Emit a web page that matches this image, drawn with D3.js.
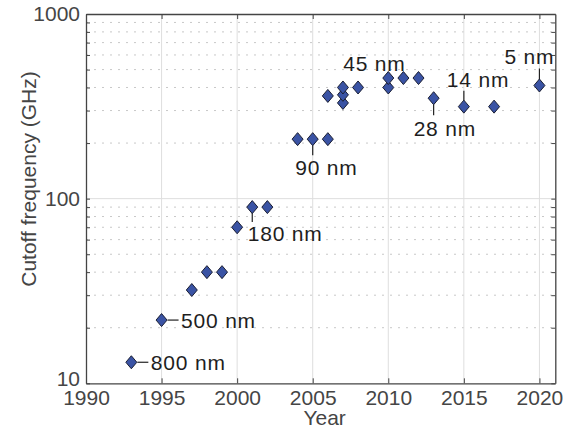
<!DOCTYPE html>
<html>
<head>
<meta charset="utf-8">
<script src="https://cdn.jsdelivr.net/npm/d3@7"></script>
<style>
  body { margin: 0; background: #fff; }
  svg { font-family: "Liberation Sans", Arial, Helvetica, sans-serif; }
  .axis path, .axis line { stroke: #444; }
  .axis text { fill: #454545; font-size: 21px; }
</style>
</head>
<body>
<svg id="chart" width="574" height="429"></svg>
<script>
// data
var years = [1993, 1995, 1997, 1998, 1999, 2000, 2001, 2002, 2004, 2005, 2006, 2006,
             2007, 2007, 2007, 2008, 2010, 2010, 2011, 2012, 2013, 2015, 2017, 2020];
var freqs = [13, 22, 32, 40, 40, 70, 90, 90, 210, 210, 210, 360,
             330, 365, 400, 400, 400, 450, 450, 450, 350, 315, 315, 410];

var nodeLabels = ["800 nm", "500 nm", "180 nm", "90 nm", "45 nm", "28 nm", "14 nm", "5 nm"];
var nodeYears  = [1993, 1995, 2001, 2005, 2010, 2013, 2015, 2020];
var nodeFreqs  = [13, 22, 90, 210, 450, 350, 315, 410];

var xTicks = [1990, 1995, 2000, 2005, 2010, 2015, 2020];
var yTicks = [10, 100, 1000];
var yMinor = [20, 30, 40, 50, 60, 70, 80, 90, 200, 300, 400, 500, 600, 700, 800, 900];

var svg = d3.select("#chart");
var plotL = 86, plotR = 555.3, plotT = 14, plotB = 383.3;

var x = d3.scaleLinear().domain([1990, 2021.05]).range([plotL, plotR]);
var y = d3.scaleLog().domain([10, 1000]).range([plotB, plotT]);

// grid
var grid = svg.append("g");
grid.selectAll("line.minor").data(yMinor).enter().append("line")
    .attr("x1", plotL).attr("x2", plotR)
    .attr("y1", function(d) { return y(d); })
    .attr("y2", function(d) { return y(d); })
    .attr("stroke", "#c8c8c8")
    .attr("stroke-dasharray", "2,6");
grid.selectAll("line.vmajor").data(xTicks.slice(1)).enter().append("line")
    .attr("x1", function(d) { return x(d); })
    .attr("x2", function(d) { return x(d); })
    .attr("y1", plotT).attr("y2", plotB)
    .attr("stroke", "#dedede");
grid.append("line")
    .attr("x1", plotL).attr("x2", plotR)
    .attr("y1", y(100)).attr("y2", y(100))
    .attr("stroke", "#dedede");

// axes
var allY = yTicks.concat(yMinor);
svg.append("g").attr("class", "axis")
    .attr("transform", "translate(0," + plotB + ")")
    .call(d3.axisBottom(x).tickValues(xTicks).tickFormat(d3.format("d"))
        .tickSizeInner(-5).tickSizeOuter(0).tickPadding(7));
svg.append("g").attr("class", "axis")
    .attr("transform", "translate(0," + plotT + ")")
    .call(d3.axisTop(x).tickValues(xTicks).tickFormat("")
        .tickSizeInner(-5).tickSizeOuter(0));
var yAxisG = svg.append("g").attr("class", "axis")
    .attr("transform", "translate(" + plotL + ",0)")
    .call(d3.axisLeft(y).tickValues(allY)
        .tickFormat(function(d) { return yTicks.indexOf(d) >= 0 ? d : ""; })
        .tickSizeInner(-4).tickSizeOuter(0).tickPadding(6));
// the bottom label sits a little high, as in the original
yAxisG.selectAll(".tick text").filter(function(d) { return d === 10; }).attr("dy", "0.1em");
svg.append("g").attr("class", "axis")
    .attr("transform", "translate(" + plotR + ",0)")
    .call(d3.axisRight(y).tickValues(allY).tickFormat("")
        .tickSizeInner(-4).tickSizeOuter(0));
svg.selectAll(".axis path").attr("stroke-width", 1.3);

// axis titles
svg.append("text")
    .attr("x", (plotL + plotR) / 2 + 4).attr("y", 425)
    .attr("text-anchor", "middle")
    .attr("font-size", 21).attr("fill", "#454545")
    .text("Year");
svg.append("text")
    .attr("transform", "translate(36,179) rotate(-90)")
    .attr("text-anchor", "middle")
    .attr("font-size", 21).attr("fill", "#454545")
    .text("Cutoff frequency (GHz)");

// node annotations: leader line offsets and text placement
var place = {
  "800 nm": { line: [6, 0, 17, 0], tx: 19.5, ty: 0 },
  "500 nm": { line: [6, 0, 17, 0], tx: 19.5, ty: 0 },
  "180 nm": { line: [0, 5, 0, 15], tx: -4.5, ty: 26 },
  "90 nm":  { line: [0, 6, 0, 16], tx: -17.5, ty: 28 },
  "45 nm":  { line: null, tx: -45, ty: -15 },
  "28 nm":  { line: [0, 6, 0, 17], tx: -20, ty: 30 },
  "14 nm":  { line: [0, -16, 0, -6], tx: -17, ty: -27.5 },
  "5 nm":   { line: [0, -17, 0, -6], tx: -35, ty: -29 }
};

var notes = svg.append("g");
nodeLabels.forEach(function(lab, i) {
  var px = x(nodeYears[i]), py = y(nodeFreqs[i]), p = place[lab];
  if (p.line) {
    notes.append("line")
      .attr("x1", px + p.line[0]).attr("y1", py + p.line[1])
      .attr("x2", px + p.line[2]).attr("y2", py + p.line[3])
      .attr("stroke", "#222").attr("stroke-width", 1.2);
  }
  notes.append("text")
    .attr("x", px + p.tx).attr("y", py + p.ty)
    .attr("dy", "0.36em")
    .attr("font-size", 21).attr("letter-spacing", "0.8px")
    .attr("fill", "#1e1e1e")
    .text(lab);
});

// diamonds
var pts = years.map(function(d, i) { return { year: d, f: freqs[i] }; });
svg.append("g").selectAll("path").data(pts).enter().append("path")
    .attr("transform", function(d) { return "translate(" + x(d.year) + "," + y(d.f) + ")"; })
    .attr("d", "M0,-6.5L5.5,0L0,6.5L-5.5,0Z")
    .attr("fill", "#3a53a4")
    .attr("stroke", "#1b1f33")
    .attr("stroke-width", 1);
</script>
</body>
</html>
